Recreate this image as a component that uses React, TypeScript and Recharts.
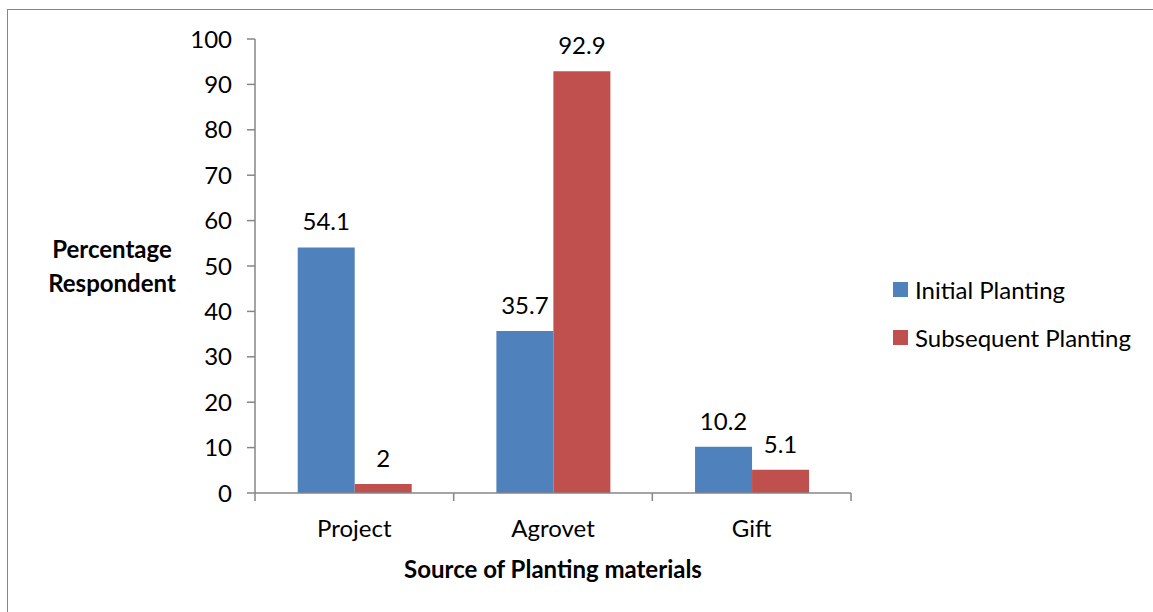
import React from 'react';
import { BarChart, Bar, XAxis, YAxis, Legend, LabelList, Label } from 'recharts';

const sources = ['Project', 'Agrovet', 'Gift'];
const initialPlanting = [54.1, 35.7, 10.2];
const subsequentPlanting = [2, 92.9, 5.1];
const yTicks = [0, 10, 20, 30, 40, 50, 60, 70, 80, 90, 100];

const chartData = sources.map((source, i) => ({
  source,
  initial: initialPlanting[i],
  subsequent: subsequentPlanting[i],
}));

const FONT = 'Lato, "Open Sans", sans-serif';
const FONT_SIZE = 24;
const AXIS = '#868686';
const BLUE = '#4F81BD';
const RED = '#C0504D';

const WIDTH = 1153;
const HEIGHT = 612;
const MARGIN = { top: 39, right: 302, bottom: 0, left: 0 };
const Y_AXIS_WIDTH = 255;
const X_AXIS_HEIGHT = 119;
const PLOT_WIDTH = WIDTH - MARGIN.left - MARGIN.right - Y_AXIS_WIDTH;
const BAND = PLOT_WIDTH / sources.length;

// category label plus Excel-style tick marks on the band edges
const CategoryTick = ({ x, y, payload, index }: any) => (
  <g>
    {index === 0 && (
      <line x1={x - BAND / 2} y1={y - 8} x2={x - BAND / 2} y2={y} stroke={AXIS} strokeWidth={1.5} />
    )}
    <line x1={x + BAND / 2} y1={y - 8} x2={x + BAND / 2} y2={y} stroke={AXIS} strokeWidth={1.5} />
    <text x={x} y={y + 30} textAnchor="middle" dominantBaseline="middle" fontSize={FONT_SIZE} fill="#000" fontFamily={FONT}>
      {payload.value}
    </text>
  </g>
);

const YTitle = ({ viewBox }: any) => {
  const cy = viewBox.y + viewBox.height / 2;
  return (
    <text x={112} y={cy} textAnchor="middle" fontSize={FONT_SIZE} fontWeight="bold" fill="#000" fontFamily={FONT}>
      <tspan x={112} y={cy - 8}>Percentage</tspan>
      <tspan x={112} y={cy + 26}>Respondent</tspan>
    </text>
  );
};

const LegendBox = ({ payload }: any) => (
  <div style={{ fontFamily: FONT, fontSize: FONT_SIZE }}>
    {(payload || []).map((entry: any) => (
      <div key={entry.value} style={{ display: 'flex', alignItems: 'center', height: 48 }}>
        <span style={{ width: 15, height: 15, background: entry.color, marginRight: 7 }} />
        <span>{entry.value}</span>
      </div>
    ))}
  </div>
);

export default function App() {
  return (
    <div style={{ position: 'absolute', left: 0, top: 0, width: WIDTH, height: HEIGHT, background: '#fff', overflow: 'hidden' }}>
      <div
        style={{
          position: 'absolute',
          left: 7,
          top: 9,
          width: WIDTH,
          height: HEIGHT,
          borderLeft: `1px solid ${AXIS}`,
          borderTop: `1px solid ${AXIS}`,
        }}
      />
      <BarChart
        width={WIDTH}
        height={HEIGHT}
        data={chartData}
        margin={MARGIN}
        barCategoryGap="21.5%"
        barGap={0}
      >
        <XAxis
          dataKey="source"
          height={X_AXIS_HEIGHT}
          stroke={AXIS}
          strokeWidth={1.5}
          tickLine={false}
          tick={<CategoryTick />}
          interval={0}
        >
          <Label
            value="Source of Planting materials"
            position="insideBottom"
            offset={34}
            fontSize={FONT_SIZE}
            fontWeight="bold"
            fill="#000"
            fontFamily={FONT}
          />
        </XAxis>
        <YAxis
          width={Y_AXIS_WIDTH}
          domain={[0, 100]}
          ticks={yTicks}
          interval={0}
          stroke={AXIS}
          strokeWidth={1.5}
          tickSize={8}
          tickMargin={15}
          tick={{ fontSize: FONT_SIZE, fill: '#000', fontFamily: FONT }}
        >
          <Label content={<YTitle />} />
        </YAxis>
        <Legend
          layout="vertical"
          align="center"
          verticalAlign="middle"
          content={<LegendBox />}
          wrapperStyle={{ left: 893, top: 265, width: 260 }}
        />
        <Bar dataKey="initial" name="Initial Planting" fill={BLUE} isAnimationActive={false}>
          <LabelList dataKey="initial" position="top" offset={17} fontSize={FONT_SIZE} fill="#000" fontFamily={FONT} />
        </Bar>
        <Bar dataKey="subsequent" name="Subsequent Planting" fill={RED} isAnimationActive={false}>
          <LabelList dataKey="subsequent" position="top" offset={17} fontSize={FONT_SIZE} fill="#000" fontFamily={FONT} />
        </Bar>
      </BarChart>
    </div>
  );
}
